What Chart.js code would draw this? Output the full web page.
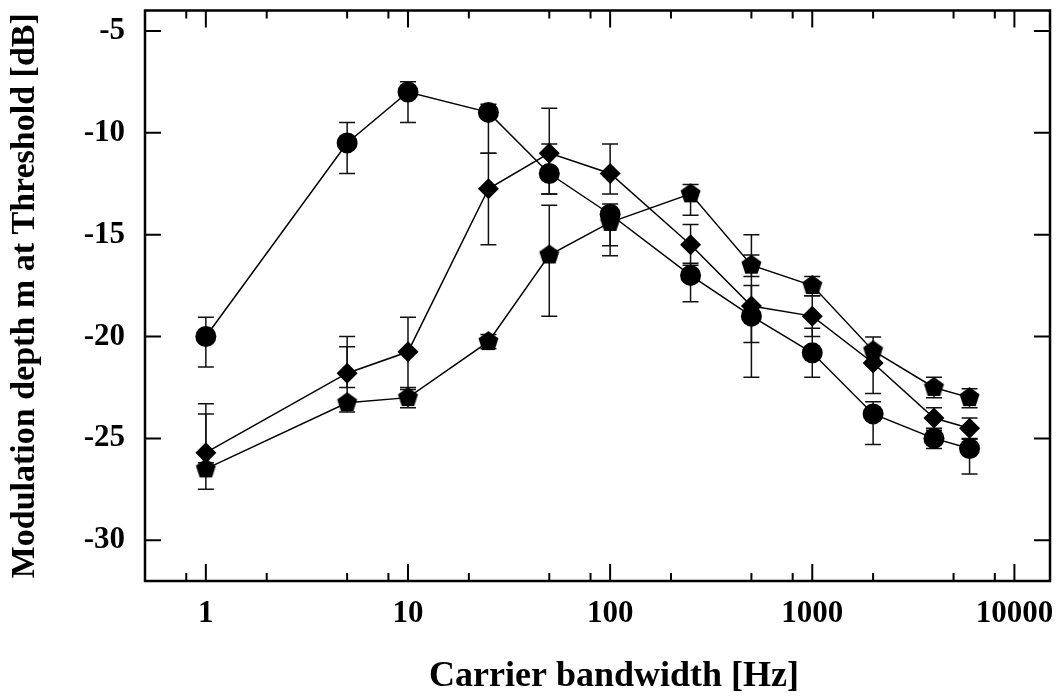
<!DOCTYPE html>
<html lang="en">
<head>
<meta charset="UTF-8">
<title>Modulation depth vs carrier bandwidth</title>
<script src="https://cdn.jsdelivr.net/npm/chart.js"></script>
<style>
  body { margin: 0; background: #fff; }
  #wrap { width: 1064px; height: 696px; }
</style>
</head>
<body>
<div id="wrap"><canvas id="chart" width="1064" height="696"></canvas></div>
<script>
// carrier bandwidth in Hz (x)
const bandwidths = [1, 5, 10, 25, 50, 100, 250, 500, 1000, 2000, 4000, 6000];

// threshold in dB, one array per symbol
const circleDepth   = [-20.0, -10.5, -8.0, -9.0, -12.0, -14.0, -17.0, -19.0, -20.8, -23.8, -25.0, -25.5];
const circleHigh    = [-19.05, -9.5, -7.5, -8.6, -10.55, -13.5, -16.4, -16.0, -19.6, -23.2, -24.6, -25.0];
const circleLow     = [-21.5, -12.0, -9.5, -11.0, -13.0, -15.55, -18.3, -22.0, -22.0, -25.3, -25.5, -26.75];

const diamondDepth  = [-25.7, -21.8, -20.75, -12.75, -11.0, -12.0, -15.5, -18.5, -19.0, -21.3, -24.0, -24.5];
const diamondHigh   = [-23.3, -20.0, -19.05, -11.0, -8.8, -10.55, -14.5, -17.5, -18.0, -20.5, -23.5, -24.0];
const diamondLow    = [-26.2, -22.5, -22.6, -15.5, -13.0, -13.0, -16.5, -20.3, -20.0, -22.8, -24.5, -25.04];

const pentagonDepth = [-26.5, -23.25, -23.0, -20.25, -16.0, -14.4, -13.0, -16.5, -17.5, -20.7, -22.5, -23.0];
const pentagonHigh  = [-23.8, -20.5, -22.5, -19.9, -13.56, -13.8, -12.54, -15.0, -17.06, -20.03, -22.0, -22.56];
const pentagonLow   = [-27.5, -23.7, -23.5, -20.6, -19.0, -16.04, -14.05, -17.06, -18.0, -21.3, -23.0, -23.5];

const xTicks = [1, 10, 100, 1000, 10000];
const xMinorTicks = [0.8, 2, 5, 8, 20, 50, 80, 200, 500, 800, 2000, 5000, 8000];
const yTicks = [-30, -25, -20, -15, -10, -5];

const xTitle = 'Carrier bandwidth [Hz]';
const yTitle = 'Modulation depth m at Threshold [dB]';

function makePentagon(r) {
  const size = Math.ceil(r * 2) + 2;
  const c = document.createElement('canvas');
  c.width = size; c.height = size;
  const g = c.getContext('2d');
  g.fillStyle = '#000';
  g.beginPath();
  for (let k = 0; k < 5; k++) {
    const a = -Math.PI / 2 + k * 2 * Math.PI / 5;
    const px = size / 2 + r * Math.cos(a), py = size / 2 + r * Math.sin(a);
    if (k === 0) g.moveTo(px, py); else g.lineTo(px, py);
  }
  g.closePath();
  g.fill();
  return c;
}

function toPoints(ys) {
  return bandwidths.map((x, i) => ({ x: x, y: ys[i] }));
}

const errorRanges = [
  { high: circleHigh, low: circleLow },
  { high: diamondHigh, low: diamondLow },
  { high: pentagonHigh, low: pentagonLow }
];

// error bars behind the symbols
const errorBars = {
  id: 'errorBars',
  beforeDatasetsDraw(chart) {
    const ctx = chart.ctx, y = chart.scales.y;
    ctx.save();
    ctx.strokeStyle = '#111';
    ctx.lineWidth = 1.5;
    chart.data.datasets.forEach((ds, di) => {
      const meta = chart.getDatasetMeta(di);
      const r = errorRanges[di];
      meta.data.forEach((pt, i) => {
        const yh = y.getPixelForValue(r.high[i]);
        const yl = y.getPixelForValue(r.low[i]);
        ctx.beginPath();
        ctx.moveTo(pt.x, yh); ctx.lineTo(pt.x, yl);
        ctx.moveTo(pt.x - 8, yh); ctx.lineTo(pt.x + 8, yh);
        ctx.moveTo(pt.x - 8, yl); ctx.lineTo(pt.x + 8, yl);
        ctx.stroke();
      });
    });
    ctx.restore();
  }
};

// box, inward ticks on all four sides, axis titles
const frame = {
  id: 'frame',
  afterDraw(chart) {
    const ctx = chart.ctx, a = chart.chartArea;
    const xs = chart.scales.x, ys = chart.scales.y;
    ctx.save();
    ctx.strokeStyle = '#000';
    ctx.lineWidth = 2;
    ctx.beginPath();
    xTicks.forEach(v => {
      const px = xs.getPixelForValue(v);
      ctx.moveTo(px, a.bottom); ctx.lineTo(px, a.bottom - 17);
      ctx.moveTo(px, a.top); ctx.lineTo(px, a.top + 17);
    });
    xMinorTicks.forEach(v => {
      const px = xs.getPixelForValue(v);
      ctx.moveTo(px, a.bottom); ctx.lineTo(px, a.bottom - 8);
      ctx.moveTo(px, a.top); ctx.lineTo(px, a.top + 8);
    });
    yTicks.forEach(v => {
      const py = ys.getPixelForValue(v);
      ctx.moveTo(a.left, py); ctx.lineTo(a.left + 16, py);
      ctx.moveTo(a.right, py); ctx.lineTo(a.right - 16, py);
    });
    ctx.stroke();
    ctx.lineWidth = 2.5;
    ctx.strokeRect(a.left, a.top, a.right - a.left, a.bottom - a.top);

    ctx.fillStyle = '#000';
    ctx.textAlign = 'center';
    ctx.textBaseline = 'middle';
    ctx.font = 'bold 36px "Liberation Serif"';
    ctx.fillText(xTitle, 614, 677);
    ctx.font = 'bold 34px "Liberation Serif"';
    ctx.translate(25, (a.top + a.bottom) / 2);
    ctx.rotate(-Math.PI / 2);
    ctx.fillText(yTitle, 0, 0);
    ctx.restore();
  }
};

const lineStyle = {
  borderColor: '#000',
  borderWidth: 1.5,
  backgroundColor: '#000',
  pointBackgroundColor: '#000',
  pointBorderWidth: 0,
  pointRadius: 10.5,
  fill: false,
  tension: 0
};

const tickFont = { family: '"Liberation Serif"', size: 31, weight: 'bold' };

new Chart(document.getElementById('chart'), {
  type: 'line',
  data: {
    datasets: [
      Object.assign({ label: 'circles', data: toPoints(circleDepth), pointStyle: 'circle' }, lineStyle),
      Object.assign({ label: 'diamonds', data: toPoints(diamondDepth), pointStyle: 'rectRot' }, lineStyle),
      Object.assign({ label: 'pentagons', data: toPoints(pentagonDepth), pointStyle: makePentagon(10.5) }, lineStyle)
    ]
  },
  options: {
    responsive: false,
    animation: false,
    layout: { padding: { top: 5, right: 14, left: 0, bottom: 0 } },
    plugins: { legend: { display: false }, tooltip: { enabled: false } },
    scales: {
      x: {
        type: 'logarithmic',
        min: 0.5,
        max: 15000,
        grid: { display: false, drawTicks: false },
        border: { display: false },
        afterBuildTicks: s => { s.ticks = xTicks.map(v => ({ value: v })); },
        afterFit: s => { s.height = 115; s.paddingLeft = 0; s.paddingRight = 0; },
        ticks: {
          color: '#000',
          font: tickFont,
          padding: 14,
          maxRotation: 0,
          autoSkip: false,
          callback: v => String(v)
        }
      },
      y: {
        type: 'linear',
        min: -32,
        max: -4,
        grid: { display: false, drawTicks: false },
        border: { display: false },
        afterBuildTicks: s => { s.ticks = yTicks.map(v => ({ value: v })); },
        afterFit: s => { s.width = 145; s.paddingTop = 0; s.paddingBottom = 0; },
        ticks: {
          color: '#000',
          font: tickFont,
          padding: 20,
          callback: v => String(v)
        }
      }
    }
  },
  plugins: [errorBars, frame]
});
</script>
</body>
</html>
